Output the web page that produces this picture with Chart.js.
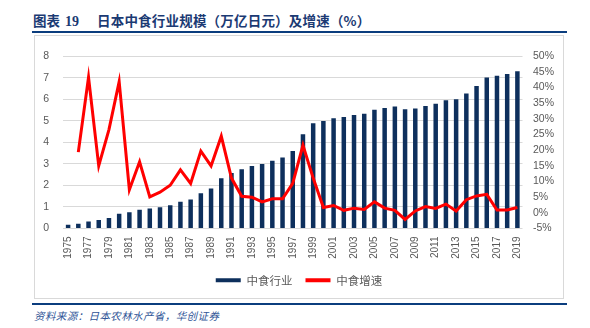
<!DOCTYPE html>
<html>
<head>
<meta charset="utf-8">
<script src="https://cdn.jsdelivr.net/npm/chart.js@4.4.1/dist/chart.umd.min.js"></script>
<style>
  html, body { margin: 0; padding: 0; background: #ffffff; }
  body { width: 590px; height: 328px; position: relative; overflow: hidden; }
  .title {
    position: absolute; left: 33px; top: 13px; height: 15px; line-height: 15px;
    font-family: "Noto Sans CJK SC", sans-serif; font-weight: 700; font-size: 13.5px;
    color: #1b3a73; white-space: nowrap;
  }
  .title .num { font-family: "Liberation Serif", serif; font-size: 14px; margin-left: 2px; }
  .title .main { position: absolute; left: 64px; top: 0; letter-spacing: 0.2px; }
  .rule { position: absolute; left: 32px; width: 535px; height: 2px; background: #0b3d7e; }
  .frame {
    position: absolute; left: 34px; top: 35px; width: 528px; height: 262px;
    border: 1px solid #d9d9d9;
  }
  .chart-box { position: absolute; left: 35px; top: 36px; width: 528px; height: 262px; }
  .source {
    position: absolute; left: 34px; top: 308px; line-height: 15px;
    font-family: "Noto Sans CJK SC", sans-serif; font-style: italic; font-size: 10.5px;
    color: #2f5597; letter-spacing: 0.4px; white-space: nowrap;
  }
</style>
</head>
<body>
<div class="title">图表 <span class="num">19</span><span class="main">日本中食行业规模（万亿日元）及增速（%）</span></div>
<div class="rule" style="top:31px"></div>
<div class="frame"></div>
<div class="chart-box"><canvas id="chart" width="528" height="262"></canvas></div>
<div class="rule" style="top:302.5px"></div>
<div class="source">资料来源：日本农林水产省，华创证券</div>

<script>
// Years on the category axis
const years = [
  '1975','1976','1977','1978','1979','1980','1981','1982','1983','1984',
  '1985','1986','1987','1988','1989','1990','1991','1992','1993','1994',
  '1995','1996','1997','1998','1999','2000','2001','2002','2003','2004',
  '2005','2006','2007','2008','2009','2010','2011','2012','2013','2014',
  '2015','2016','2017','2018','2019'
];

// 中食行业规模（万亿日元）
const marketSize = [
  0.18, 0.22, 0.33, 0.39, 0.49, 0.69, 0.75, 0.87, 0.93, 0.99,
  1.08, 1.24, 1.35, 1.64, 1.86, 2.33, 2.58, 2.75, 2.90, 3.00,
  3.15, 3.30, 3.60, 4.38, 4.89, 5.00, 5.12, 5.18, 5.27, 5.33,
  5.52, 5.60, 5.67, 5.54, 5.58, 5.69, 5.79, 5.96, 6.00, 6.27,
  6.62, 7.02, 7.10, 7.18, 7.30
];

// 中食增速（%）
const growthRate = [
  null, 19.4, 43.3, 15.0, 26.6, 41.9, 7.4, 16.3, 5.1, 6.6,
  8.8, 13.7, 9.4, 19.7, 15.0, 24.5, 11.1, 5.3, 5.0, 3.5,
  4.5, 4.5, 9.4, 21.6, 11.1, 1.7, 2.35, 0.8, 1.5, 1.1,
  3.5, 1.5, 0.8, -2.1, 0.6, 2.0, 1.4, 2.8, 0.6, 4.2,
  5.4, 5.9, 0.9, 0.9, 1.7
];

// Axis ranges and tick settings
const leftTicks = { min: 0, max: 8, step: 1 };
const rightTicks = { min: -5, max: 50, step: 5 };

const seriesNames = ['中食行业', '中食增速'];

const tickColor = '#595959';
const gridColor = '#d9d9d9';

new Chart(document.getElementById('chart'), {
  data: {
    labels: years,
    datasets: [
      {
        type: 'bar',
        label: seriesNames[0],
        data: marketSize,
        yAxisID: 'y',
        backgroundColor: '#0d2f5c',
        borderWidth: 0,
        categoryPercentage: 1,
        barPercentage: 0.44,
        order: 2
      },
      {
        type: 'line',
        label: seriesNames[1],
        data: growthRate,
        yAxisID: 'y2',
        borderColor: '#ff0000',
        backgroundColor: '#ff0000',
        borderWidth: 3,
        pointRadius: 0,
        tension: 0,
        spanGaps: false,
        order: 1
      }
    ]
  },
  options: {
    responsive: false,
    animation: false,
    devicePixelRatio: 1,
    layout: { padding: { left: 0, right: 0, top: 13.5, bottom: 2 } },
    plugins: {
      tooltip: { enabled: false },
      legend: {
        position: 'bottom',
        labels: {
          boxWidth: 25,
          boxHeight: 4,
          padding: 13,
          color: tickColor,
          font: { family: '"Noto Sans CJK SC", sans-serif', size: 11.5 },
          sort: (a, b) => a.datasetIndex - b.datasetIndex,
          // flat swatches: a filled bar for 规模, a thin red stroke for 增速
          generateLabels: (chart) => {
            const items = Chart.defaults.plugins.legend.labels.generateLabels(chart);
            items.forEach((it) => {
              it.lineWidth = 0;
              it.strokeStyle = 'rgba(0,0,0,0)';
            });
            return items;
          }
        }
      }
    },
    scales: {
      x: {
        grid: { display: false, drawTicks: false },
        border: { display: false },
        ticks: {
          autoSkip: false,
          minRotation: 90,
          maxRotation: 90,
          padding: 8,
          color: tickColor,
          font: { family: '"Liberation Sans", sans-serif', size: 10 },
          callback: function (value, index) {
            return index % 2 === 0 ? this.getLabelForValue(value) : '';
          }
        },
        afterFit: (scale) => { scale.height = 33; }
      },
      y: {
        position: 'left',
        min: leftTicks.min,
        max: leftTicks.max,
        grid: { color: gridColor, lineWidth: 1, drawTicks: false },
        border: { display: false },
        ticks: {
          stepSize: leftTicks.step,
          padding: 14,
          color: tickColor,
          font: { family: '"Liberation Sans", sans-serif', size: 10.5 }
        },
        afterFit: (scale) => { scale.width = 28; }
      },
      y2: {
        position: 'right',
        min: rightTicks.min,
        max: rightTicks.max,
        grid: { display: false, drawTicks: false },
        border: { display: false },
        ticks: {
          stepSize: rightTicks.step,
          padding: 10.5,
          color: tickColor,
          font: { family: '"Liberation Sans", sans-serif', size: 10.5 },
          callback: (v) => v + '%'
        },
        afterFit: (scale) => { scale.width = 40.5; }
      }
    }
  }
});
</script>
</body>
</html>
